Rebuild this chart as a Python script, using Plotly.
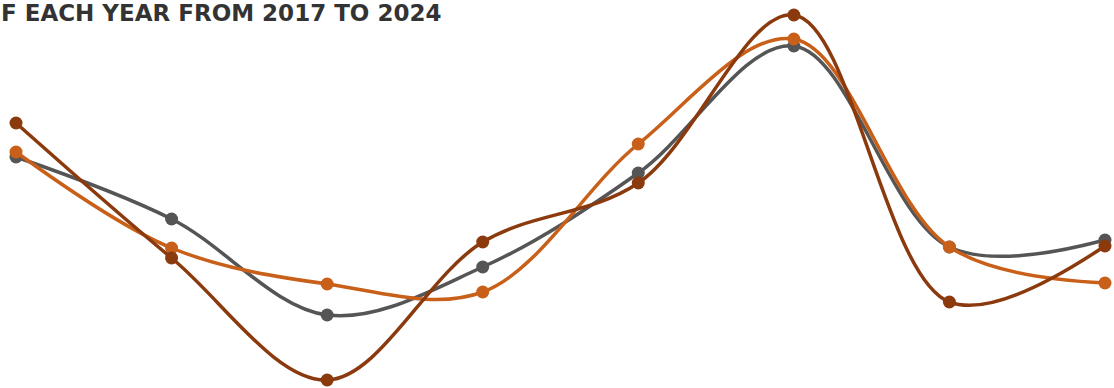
import plotly.graph_objects as go

years = [2017, 2018, 2019, 2020, 2021, 2022, 2023, 2024]
gray_vals = [231, 169, 73, 121, 215, 342, 141, 148]
orange_vals = [236, 140, 104, 96, 244, 349, 141, 105]
brown_vals = [265, 130, 8, 146, 205, 373, 86, 142]

series = [
    ("Series A", gray_vals, "#555555"),
    ("Series B", orange_vals, "#C8601A"),
    ("Series C", brown_vals, "#8B3A0E"),
]

fig = go.Figure()
for name, vals, color in series:
    fig.add_trace(go.Scatter(
        x=years, y=vals, name=name, mode="lines+markers",
        line=dict(color=color, width=3.5, shape="spline", smoothing=1),
        marker=dict(color=color, size=13),
        cliponaxis=False, hoverinfo="skip",
    ))

fig.add_annotation(
    text="F EACH YEAR FROM 2017 TO 2024",
    xref="paper", yref="paper", x=0, y=1, xanchor="left", yanchor="top",
    xshift=-1, yshift=2, showarrow=False,
    font=dict(family="DejaVu Sans", size=23, color="#333333", weight="bold"),
)

fig.update_layout(
    width=1114, height=388,
    margin=dict(l=0, r=0, t=0, b=0),
    paper_bgcolor="white", plot_bgcolor="white",
    showlegend=False,
    xaxis=dict(range=[2016.897, 2024.058], visible=False),
    yaxis=dict(range=[0, 388], visible=False),
)

fig.write_html(
    "out.html",
    config={"displayModeBar": False},
    post_script="document.body.style.margin='0';document.body.style.overflow='hidden';",
)
